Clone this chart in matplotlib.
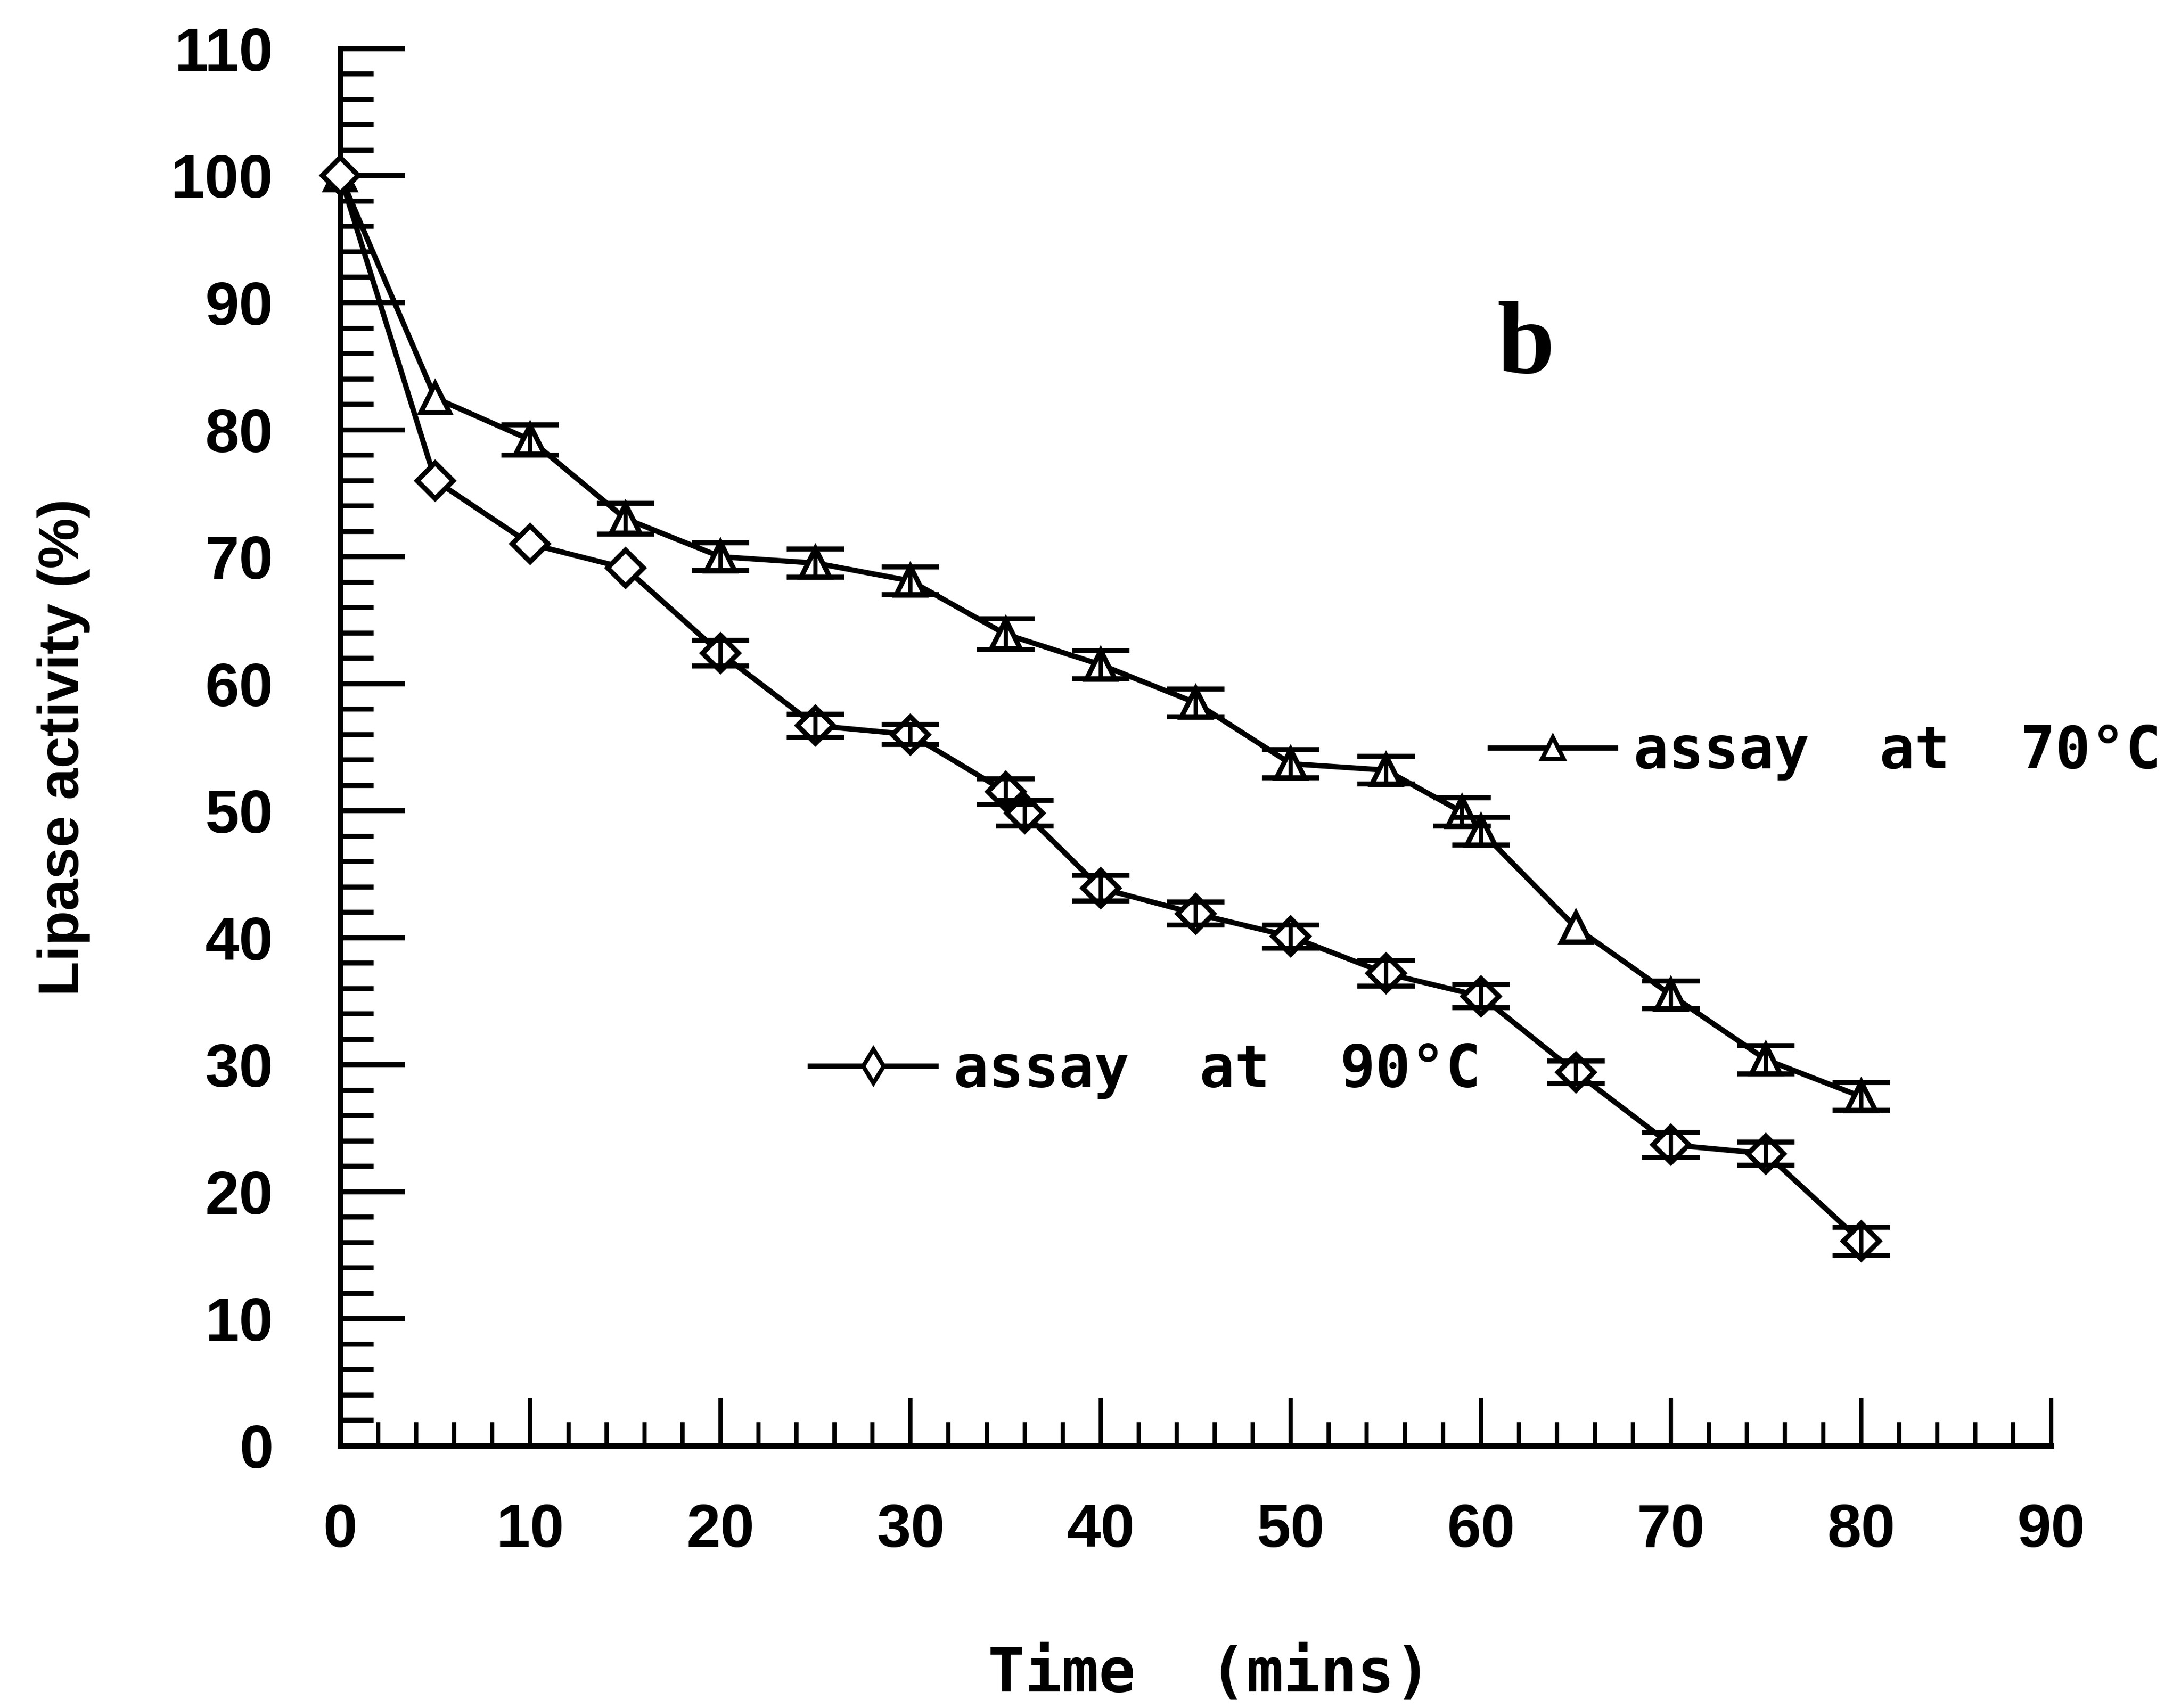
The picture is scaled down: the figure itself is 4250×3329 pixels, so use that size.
import matplotlib
matplotlib.use("Agg")
import matplotlib.pyplot as plt
from matplotlib.lines import Line2D
from matplotlib.ticker import MultipleLocator

# Residual lipase activity over time for two assay temperatures
time_70 = [0, 5, 10, 15, 20, 25, 30, 35, 40, 45, 50, 55, 59, 60, 65, 70, 75, 80]
act_70 = [100, 82.5, 79.2, 73.0, 70.0, 69.5, 68.1, 63.9, 61.5, 58.5, 53.7, 53.2,
          49.9, 48.4, 40.8, 35.5, 30.4, 27.5]
err_70 = [0, 0, 1.2, 1.2, 1.1, 1.1, 1.1, 1.2, 1.1, 1.1, 1.1, 1.1, 1.1, 1.1, 0,
          1.1, 1.1, 1.1]

time_90 = [0, 5, 10, 15, 20, 25, 30, 35, 36, 40, 45, 50, 55, 60, 65, 70, 75, 80]
act_90 = [100, 76.0, 71.0, 69.1, 62.4, 56.7, 56.0, 51.5, 49.8, 43.9, 41.9, 40.1,
          37.2, 35.4, 29.4, 23.7, 23.0, 16.1]
err_90 = [0, 0, 0, 0, 1.0, 0.9, 0.8, 1.0, 1.0, 1.0, 0.9, 0.9, 1.0, 0.9, 0.9, 1.0,
          0.9, 1.1]

x_ticks = list(range(0, 91, 10))
y_ticks = list(range(0, 111, 10))
label_70 = "assay  at  70°C"
label_90 = "assay  at  90°C"

plt.rcParams["font.family"] = ["Liberation Sans", "DejaVu Sans"]
plt.rcParams["font.weight"] = "bold"
MONO = ["DejaVu Sans Mono", "DejaVu Sans"]

fig = plt.figure(figsize=(42.5, 33.29), dpi=100)
ax = fig.add_axes([0.156, 0.1535, 0.7845, 0.818])

LW = 7.5


def draw_series(t, a, e, marker, ms):
    ax.plot(t, a, color="black", lw=LW, marker=marker, ms=ms, mfc="white",
            mec="black", mew=7, clip_on=False, zorder=3)
    sel = [i for i, v in enumerate(e) if v > 0]
    ax.errorbar([t[i] for i in sel], [a[i] for i in sel],
                yerr=[e[i] for i in sel], fmt="none", ecolor="black",
                elinewidth=6, capsize=40, capthick=7, zorder=4)


draw_series(time_70, act_70, err_70, "^", 40)
draw_series(time_90, act_90, err_90, "D", 36)

ax.set_xlim(0, 90)
ax.set_ylim(0, 110)
for side in ("top", "right"):
    ax.spines[side].set_visible(False)
for side in ("left", "bottom"):
    ax.spines[side].set_linewidth(8)

ax.set_xticks(x_ticks)
ax.set_yticks(y_ticks)
ax.xaxis.set_minor_locator(MultipleLocator(2))
ax.yaxis.set_minor_locator(MultipleLocator(2))
ax.tick_params(axis="y", which="major", direction="in", length=91, width=7,
               pad=94, labelsize=86)
ax.tick_params(axis="y", which="minor", direction="in", length=47, width=7)
ax.tick_params(axis="x", which="major", direction="in", length=68, width=6,
               pad=80, labelsize=86)
ax.tick_params(axis="x", which="minor", direction="in", length=33, width=6)

ax.set_xlabel("Time  (mins)", fontsize=86, fontfamily=MONO, fontweight="bold")
ax.xaxis.set_label_coords(0.508, -0.1425)
ax.set_ylabel("Lipase activity (%)", fontsize=80, fontweight="bold")
ax.yaxis.set_label_coords(-0.146, 0.5)

ax.text(0.693, 0.786, "b", transform=ax.transAxes, ha="center", va="center",
        fontsize=145, fontfamily=["Liberation Serif"], fontweight="bold")

h70 = Line2D([], [], color="black", lw=LW, marker="^", ms=30, mfc="white",
             mec="black", mew=6)
h90 = Line2D([], [], color="black", lw=LW, marker="d", ms=34, mfc="white",
             mec="black", mew=6)
leg_kw = dict(frameon=False, borderpad=0, borderaxespad=0, handlelength=2.15,
              handletextpad=0.3, loc="center left",
              prop={"family": MONO, "weight": "bold", "size": 82})
leg1 = ax.legend([h70], [label_70], bbox_to_anchor=(0.672, 0.4965), **leg_kw)
ax.add_artist(leg1)
ax.legend([h90], [label_90], bbox_to_anchor=(0.2748, 0.2685), **leg_kw)

fig.savefig("out.png", dpi=100, facecolor="white")
